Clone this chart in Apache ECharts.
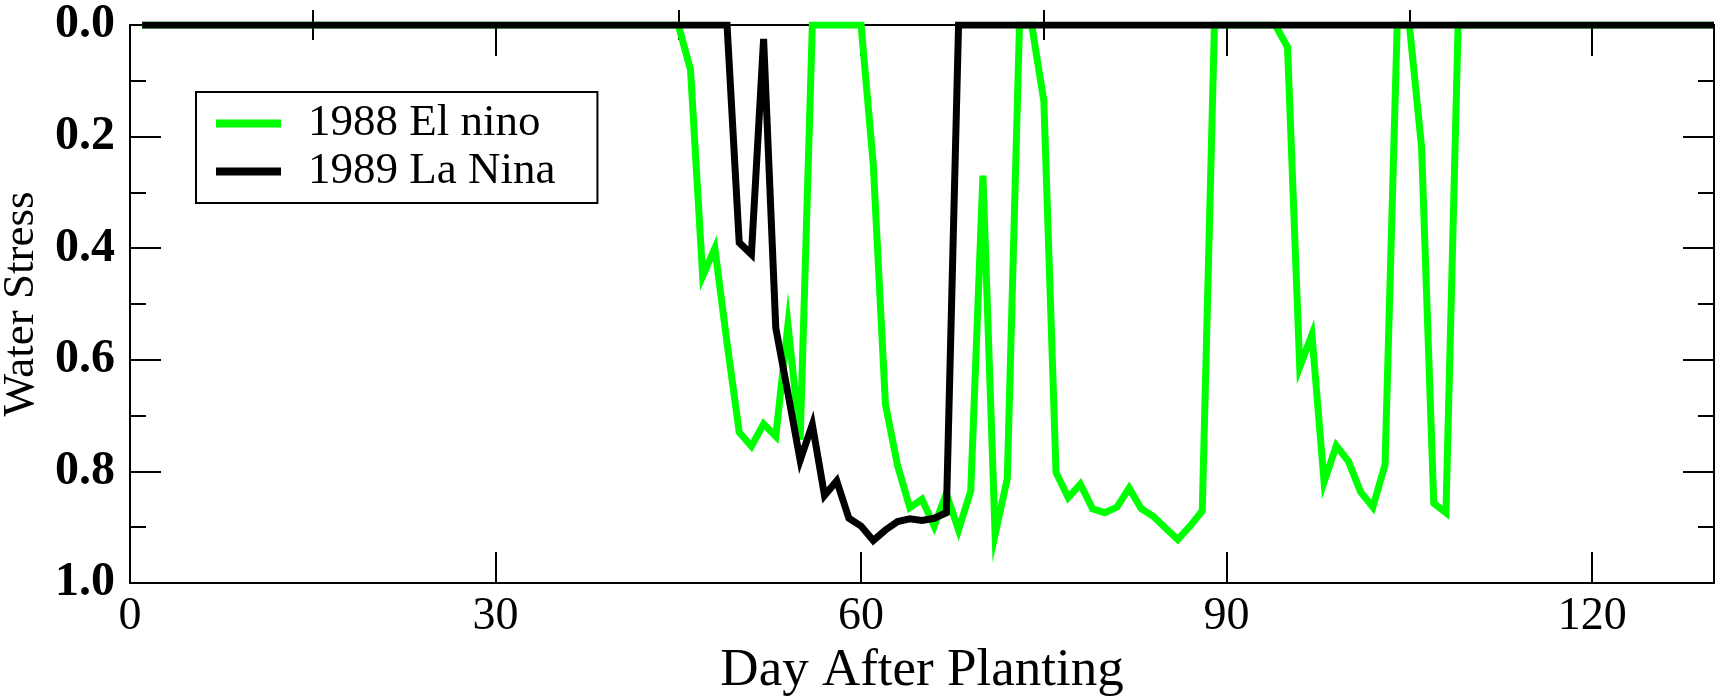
<!DOCTYPE html>
<html>
<head>
<meta charset="utf-8">
<script src="https://cdn.jsdelivr.net/npm/echarts@6/dist/echarts.min.js"></script>
<style>
html,body{margin:0;padding:0;background:#fff;}
#chart{width:1721px;height:697px;}
</style>
</head>
<body>
<div id="chart"></div>
<script>
// Day after planting (1..130)
const days = [];
for (let d = 1; d <= 130; d++) days.push(d);

// 1988 El nino water stress
const elNino1988 = [
  0,0,0,0,0,0,0,0,0,0,            // 1-10
  0,0,0,0,0,0,0,0,0,0,            // 11-20
  0,0,0,0,0,0,0,0,0,0,            // 21-30
  0,0,0,0,0,0,0,0,0,0,            // 31-40
  0,0,0,0,0,0.08,0.45,0.40,0.57,0.73,   // 41-50
  0.755,0.715,0.737,0.537,0.743,0,0,0,0,0, // 51-60
  0.25,0.68,0.79,0.865,0.85,0.898,0.84,0.905,0.835,0.27, // 61-70
  0.913,0.813,0,0,0.136,0.802,0.847,0.823,0.867,0.874,   // 71-80
  0.864,0.830,0.867,0.881,0.902,0.922,0.898,0.871,0,0,   // 81-90
  0,0,0,0,0.04,0.613,0.555,0.819,0.754,0.782,            // 91-100
  0.837,0.864,0.788,0,0,0.219,0.857,0.874,0,0,           // 101-110
  0,0,0,0,0,0,0,0,0,0,            // 111-120
  0,0,0,0,0,0,0,0,0,0             // 121-130
];

// 1989 La Nina water stress
const laNina1989 = [
  0,0,0,0,0,0,0,0,0,0,
  0,0,0,0,0,0,0,0,0,0,
  0,0,0,0,0,0,0,0,0,0,
  0,0,0,0,0,0,0,0,0,0,
  0,0,0,0,0,0,0,0,0,0.39,                  // 41-50
  0.411,0.025,0.543,0.66,0.78,0.716,0.843,0.817,0.884,0.898, // 51-60
  0.924,0.905,0.89,0.885,0.888,0.884,0.874,0,0,0,            // 61-70
  0,0,0,0,0,0,0,0,0,0,
  0,0,0,0,0,0,0,0,0,0,
  0,0,0,0,0,0,0,0,0,0,
  0,0,0,0,0,0,0,0,0,0,
  0,0,0,0,0,0,0,0,0,0,
  0,0,0,0,0,0,0,0,0,0
];

const xMajorTicks = [0, 30, 60, 90, 120];
const xMinorTicks = [15, 45, 75, 105];
const seriesNames = ['1988 El nino', '1989 La Nina'];

const FONT = "Liberation Serif";

function pairs(vals) { return days.map((d, i) => [d, vals[i]]); }

const baseX = {
  type: 'value', min: 0, max: 130,
  splitLine: {show: false},
  axisLine: {show: true, onZero: false, lineStyle: {color: '#000', width: 2}}
};

const chart = echarts.init(document.getElementById('chart'), null, {renderer: 'canvas'});
chart.setOption({
  animation: false,
  backgroundColor: '#fff',
  textStyle: {fontFamily: FONT, color: '#000'},
  grid: {left: 130, right: 7, top: 25, bottom: 114, containLabel: false, outerBoundsMode: 'none'},
  legend: {
    data: seriesNames,
    orient: 'vertical',
    left: 196, top: 92,
    padding: [9, 42, 9, 20],
    itemWidth: 65, itemHeight: 8,
    itemGap: 3,
    icon: 'rect',
    borderColor: '#000', borderWidth: 2,
    backgroundColor: '#fff',
    textStyle: {fontFamily: FONT, fontSize: 45, lineHeight: 45, color: '#000', padding: [0, 0, 0, 22]}
  },
  xAxis: [
    Object.assign({}, baseX, {
      position: 'bottom',
      name: 'Day After Planting', nameLocation: 'middle', nameGap: 58,
      nameTextStyle: {fontFamily: FONT, fontSize: 53, lineHeight: 53, color: '#000'},
      axisTick: {show: true, inside: true, length: 31, customValues: xMajorTicks, lineStyle: {color: '#000', width: 2}},
      axisLabel: {show: true, customValues: xMajorTicks, margin: 11, fontFamily: FONT, fontSize: 46, lineHeight: 46, color: '#000'}
    }),
    Object.assign({}, baseX, {
      position: 'bottom',
      axisLine: {show: false},
      axisTick: {show: true, inside: true, length: 15, customValues: xMinorTicks, lineStyle: {color: '#000', width: 2}},
      axisLabel: {show: false}
    }),
    Object.assign({}, baseX, {
      position: 'top',
      axisTick: {show: true, inside: true, length: 31, customValues: xMajorTicks, lineStyle: {color: '#000', width: 2}},
      axisLabel: {show: false}
    }),
    Object.assign({}, baseX, {
      position: 'top',
      axisLine: {show: false},
      axisTick: {show: true, inside: true, length: 15, customValues: xMinorTicks, lineStyle: {color: '#000', width: 2}},
      axisLabel: {show: false}
    })
  ],
  yAxis: [
    {
      type: 'value', min: 0, max: 1, interval: 0.2, inverse: true, position: 'left',
      name: 'Water Stress', nameLocation: 'middle', nameGap: 77,
      nameTextStyle: {fontFamily: FONT, fontSize: 45, color: '#000'},
      splitLine: {show: false},
      axisLine: {show: true, onZero: false, lineStyle: {color: '#000', width: 2}},
      axisTick: {show: true, inside: true, length: 31, lineStyle: {color: '#000', width: 2}},
      minorTick: {show: true, splitNumber: 2, length: 16, lineStyle: {color: '#000', width: 2}},
      axisLabel: {margin: 15, fontFamily: FONT, fontSize: 48, fontWeight: 'bold', color: '#000',
                  formatter: v => v.toFixed(1)}
    },
    {
      type: 'value', min: 0, max: 1, interval: 0.2, inverse: true, position: 'right',
      splitLine: {show: false},
      axisLine: {show: true, onZero: false, lineStyle: {color: '#000', width: 2}},
      axisTick: {show: true, inside: true, length: 31, lineStyle: {color: '#000', width: 2}},
      minorTick: {show: true, splitNumber: 2, length: 16, lineStyle: {color: '#000', width: 2}},
      axisLabel: {show: false}
    }
  ],
  series: [
    {
      name: seriesNames[0], type: 'line', xAxisIndex: 0, yAxisIndex: 0,
      data: pairs(elNino1988), showSymbol: false, symbol: 'none',
      lineStyle: {color: '#00ff00', width: 7, join: 'miter'},
      itemStyle: {color: '#00ff00'}, z: 2
    },
    {
      name: seriesNames[1], type: 'line', xAxisIndex: 0, yAxisIndex: 0,
      data: pairs(laNina1989), showSymbol: false, symbol: 'none',
      lineStyle: {color: '#000000', width: 7, join: 'miter'},
      itemStyle: {color: '#000000'}, z: 3
    }
  ]
});
</script>
</body>
</html>
